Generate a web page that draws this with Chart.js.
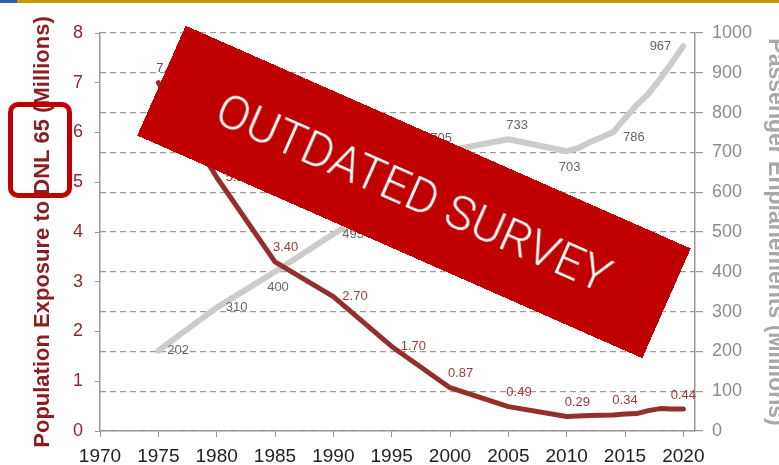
<!DOCTYPE html>
<html>
<head>
<meta charset="utf-8">
<script src="https://cdn.jsdelivr.net/npm/chart.js@4.4.1/dist/chart.umd.min.js"></script>
<style>
  body { margin: 0; background: #fff; }
  #wrap { position: relative; width: 779px; height: 465px; overflow: hidden; }
  #bar-blue { position: absolute; left: 0; top: 0; width: 17px; height: 3px; background: #2e5fa8; }
  #bar-gold { position: absolute; left: 17px; top: 0; width: 762px; height: 3px; background: #c49a00; }
  #dnl-box {
    position: absolute; left: 8px; top: 102px; width: 54px; height: 86px;
    border: 5px solid #c00000; border-radius: 10px;
  }
  #stamp {
    position: absolute; left: 138px; top: 132px; width: 552px; height: 120px;
    background: #c00000; transform: rotate(23.8deg);
    color: #fff; font: 300 48px Roboto, "Liberation Sans", sans-serif;
    display: flex; align-items: center; justify-content: center;
  }
</style>
</head>
<body>
<div id="wrap">
  <canvas id="chart" width="779" height="465"></canvas>
  <div id="bar-blue"></div>
  <div id="bar-gold"></div>
  <div id="dnl-box"></div>
  <div id="stamp">OUTDATED SURVEY</div>
</div>
<script>
// x axis tick labels
const xTicks = [1970, 1975, 1980, 1985, 1990, 1995, 2000, 2005, 2010, 2015, 2020];

// population exposed to DNL 65 (millions) - left axis
const popYears = [1975, 1980, 1985, 1990, 1995, 2000, 2005, 2010, 2012, 2014, 2015, 2016, 2017, 2018, 2019, 2020];
const popValues = [7.0, 5.1, 3.4, 2.7, 1.7, 0.87, 0.49, 0.29, 0.31, 0.32, 0.34, 0.35, 0.41, 0.45, 0.44, 0.44];
const popLabels = ["7.00", "5.10", "3.40", "2.70", "1.70", "0.87", "0.49", "0.29", null, null, "0.34", null, null, null, null, "0.44"];
const popLabelPos = ["ne", "e", "ne", "e", "e", "ne", "ne", "ne", null, null, "n", null, null, null, null, "n"];

// passenger enplanements (millions) - right axis
const paxYears = [1975, 1980, 1985, 1990, 1995, 2000, 2005, 2010, 2011, 2012, 2013, 2014, 2015, 2016, 2017, 2018, 2019, 2020];
const paxValues = [202, 310, 400, 495, 581, 705, 733, 703, 711, 726, 738, 751, 786, 819, 847, 884, 925, 967];
const paxLabels = ["202", "310", "400", "495", "581", "705", "733", "703", null, null, null, null, "786", null, null, null, null, "967"];
const paxLabelPos = ["e", "e", "s", "e", "e", "nw", "ne", "s", null, null, null, null, "se", null, null, null, null, "w"];

const labelOffsets = {
  n: { align: "center", dx: 0, dy: -14 },
  ne: { align: "left", dx: -2, dy: -14 },
  nw: { align: "right", dx: 2, dy: -12 },
  e: { align: "left", dx: 9, dy: 0 },
  s: { align: "center", dx: 3, dy: 16 },
  se: { align: "left", dx: -2, dy: 19 },
  w: { align: "right", dx: -12, dy: 0 },
};

// draws the value labels next to the points
const pointLabels = {
  id: "pointLabels",
  afterDatasetsDraw(chart) {
    const ctx = chart.ctx;
    chart.data.datasets.forEach((ds, i) => {
      const meta = chart.getDatasetMeta(i);
      meta.data.forEach((pt, j) => {
        const text = ds.pointText[j];
        if (!text) return;
        const off = labelOffsets[ds.pointPlace[j]];
        ctx.save();
        ctx.font = "13px Arial, 'Liberation Sans', sans-serif";
        ctx.fillStyle = ds.labelColor;
        ctx.textAlign = off.align;
        ctx.textBaseline = "middle";
        ctx.fillText(text, pt.x + off.dx, pt.y + off.dy);
        ctx.restore();
      });
    });
  },
};

Chart.defaults.font.family = "Arial, 'Liberation Sans', sans-serif";

new Chart(document.getElementById("chart"), {
  type: "line",
  data: {
    datasets: [
      {
        label: "Population Exposure to DNL 65",
        data: popYears.map((x, i) => ({ x: x, y: popValues[i] })),
        yAxisID: "y",
        borderColor: "#93302e",
        borderWidth: 5,
        pointRadius: 0,
        borderJoinStyle: "round",
        borderCapStyle: "round",
        tension: 0,
        pointText: popLabels,
        pointPlace: popLabelPos,
        labelColor: "#9a3a38",
      },
      {
        label: "Passenger Enplanements",
        data: paxYears.map((x, i) => ({ x: x, y: paxValues[i] })),
        yAxisID: "y2",
        borderColor: "#cccccc",
        borderWidth: 6,
        pointRadius: 0,
        borderJoinStyle: "round",
        borderCapStyle: "round",
        tension: 0,
        pointText: paxLabels,
        pointPlace: paxLabelPos,
        labelColor: "#666666",
      },
    ],
  },
  options: {
    responsive: false,
    animation: false,
    devicePixelRatio: 1,
    layout: { padding: { top: 33, left: 0, right: 0, bottom: 0 } },
    plugins: { legend: { display: false }, tooltip: { enabled: false } },
    scales: {
      x: {
        type: "linear",
        min: 1970,
        max: 2021,
        afterBuildTicks: (scale) => {
          scale.ticks = xTicks.map((v) => ({ value: v }));
        },
        afterFit: (scale) => {
          scale.height = 34;
        },
        ticks: {
          callback: (v) => String(v),
          color: "#222",
          font: { size: 19 },
          padding: 8,
          maxRotation: 0,
        },
        grid: { drawOnChartArea: false, drawTicks: true, tickLength: 6, color: "#999" },
        border: { display: true, color: "#999", width: 1.5 },
      },
      y: {
        position: "left",
        min: 0,
        max: 8,
        afterFit: (scale) => {
          scale.width = 100;
        },
        ticks: {
          stepSize: 1,
          callback: (v) => String(v),
          color: "#8b2a2a",
          font: { size: 18 },
          padding: 12,
        },
        grid: { drawOnChartArea: false, drawTicks: true, tickLength: 5, color: "#999" },
        border: { display: true, color: "#999", width: 1.5 },
        title: {
          display: true,
          text: "Population Exposure to DNL 65 (Millions)",
          color: "#8a1f1f",
          font: { size: 22, weight: "bold" },
          padding: { top: 30, bottom: 0 },
        },
      },
      y2: {
        position: "right",
        min: 0,
        max: 1000,
        afterFit: (scale) => {
          scale.width = 84;
        },
        ticks: {
          stepSize: 100,
          callback: (v) => String(v),
          color: "#8c8c8c",
          font: { size: 18 },
          padding: 9,
        },
        grid: { drawOnChartArea: true, drawTicks: true, tickLength: 8, color: "#9a9a9a", lineWidth: 1.2 },
        border: { display: true, color: "#999", width: 1.5, dash: [6, 4] },
        title: {
          display: true,
          text: "Passenger Enplanements (Millions)",
          color: "#a8a8a8",
          font: { size: 23, weight: "bold" },
          padding: { top: -10, bottom: 0 },
        },
      },
    },
  },
  plugins: [pointLabels],
});
</script>
</body>
</html>
